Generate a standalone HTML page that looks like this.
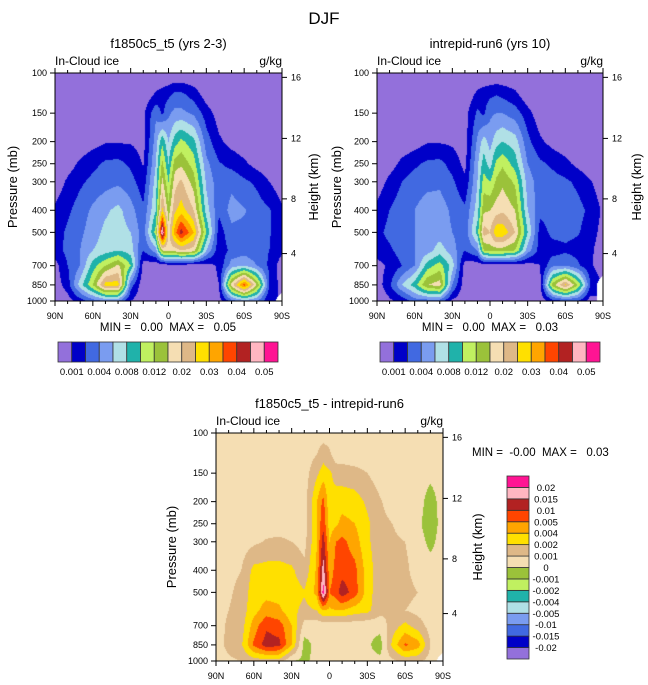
<!DOCTYPE html>
<html><head><meta charset="utf-8">
<style>
html,body{margin:0;padding:0;background:#fff;}
#wrap{position:relative;width:648px;height:685px;overflow:hidden;font-family:"Liberation Sans",sans-serif;}
canvas{position:absolute;}
svg{position:absolute;left:0;top:0;}
text{font-family:"Liberation Sans",sans-serif;fill:#000;}
.pre{white-space:pre;}
</style></head>
<body>
<div id="wrap">
<canvas id="c1"></canvas>
<canvas id="c2"></canvas>
<canvas id="c3"></canvas>
<svg id="svg" width="648" height="685">
<text x="324" y="24" text-anchor="middle" font-size="17">DJF</text>
</svg>
</div>
<script>
// ---- data (values in units of 1e-3 g/kg) ----
const SCALE = 1e-3;
const LATS = [90,80,70,60,50,40,30,20,10,5,0,-5,-10,-20,-30,-40,-50,-60,-70,-80,-90];
const PRES = [100,125,150,200,250,300,400,500,600,700,850,1000];
const LEVELS_ABS = [0.001,0.002,0.004,0.006,0.008,0.01,0.012,0.015,0.02,0.025,0.03,0.035,0.04,0.045,0.05];
const LEVELS_DIFF = [-0.02,-0.015,-0.01,-0.005,-0.004,-0.002,-0.001,0,0.001,0.002,0.004,0.005,0.01,0.015,0.02];
const LABELS_ABS = ["0.001","0.004","0.008","0.012","0.02","0.03","0.04","0.05"];
const LABELS_DIFF = ["0.02","0.015","0.01","0.005","0.004","0.002","0.001","0","-0.001","-0.002","-0.004","-0.005","-0.01","-0.015","-0.02"];
const PRES_TICKS = [100,150,200,250,300,400,500,700,850,1000];
const HEIGHT_KM = [16,12,8,4];
const HEIGHT_P = [104.5,193.6,356.5,619.4];
const LAT_TICKS = [90,60,30,0,-30,-60,-90];
const LAT_TICK_LABELS = ["90N","60N","30N","0","30S","60S","90S"];
const COLORS = ["#9370DB","#0000C8","#4169E1","#7A9CF0","#B0E0E6","#20B2AA","#C0F060","#9BC23A","#F5DEB3","#DEB887","#FFE000","#FFA500","#FF4500","#B22222","#FFB6C1","#FF1493"];

const ICE_CTRL = [
[0,0,0,0,0,0,0,0,0,0,0,0,0,0,0,0,0,0,0,0,0],
[0,0,0,0,0,0,0,0.2,1.2,1.5,1.8,2.6,2.6,1.6,0.5,0,0,0,0,0,0],
[0,0,0,0,0,0,0.2,0.8,3.6,1.8,3.6,4.6,4.6,3.6,1.5,0.5,0,0,0,0,0],
[0,0,0.3,0.6,0.9,0.9,0.9,0.6,5.0,9.6,6.0,9.0,10.6,8.6,3.0,1.2,0.6,0.3,0.1,0,0],
[0,0.5,1.2,1.7,2.4,2.6,1.8,0.9,6.0,12.9,8.0,13.5,14.4,11.0,4.6,2.2,1.7,1.2,0.6,0.2,0],
[0.3,1.2,1.8,2.6,3.2,3.6,2.8,1.4,7.0,16.5,10.0,18.0,21.0,13.5,5.6,2.8,3.4,2.4,1.8,1.0,0.3],
[1.2,1.8,3.0,4.4,5.6,6.6,4.8,2.4,8.0,26.5,13.5,24.0,27.5,20.0,7.0,2.4,4.8,4.2,3.0,2.2,1.2],
[1.5,2.4,3.6,5.0,6.6,7.0,6.0,3.0,11.0,52.5,17.5,32.5,42.5,30.0,10.0,1.5,3.4,3.4,3.0,2.2,1.2],
[1.5,2.6,4.0,6.0,7.0,8.0,7.0,2.0,5.0,15.0,17.5,17.5,20.0,17.5,6.0,1.3,2.6,3.0,2.6,2.0,1.2],
[0.6,2.0,4.0,9.0,12.0,16.0,10.0,0.5,0.2,0.3,0.4,0.4,0.4,0.3,0.5,1.2,5.0,6.0,4.0,1.8,0.4],
[0.4,1.5,7.0,12.0,27.5,27.5,3.0,0.3,0.2,0.2,0.2,0.2,0.2,0.2,0.2,1.0,17.5,37.5,15.0,2.0,0.5],
[0,0.5,1.5,3.0,4.0,4.0,1.0,0.2,0.2,0.2,0.2,0.2,0.2,0.2,0.2,0.5,3.0,5.0,4.0,1.0,null]
];
const ICE_EXP = [
[0,0,0,0,0,0,0,0,0,0,0,0,0,0,0,0,0,0,0,0,0],
[0,0,0,0,0,0,0,0.2,1.3,1.6,1.8,2.0,1.8,1.3,0.3,0,0,0,0,0,0],
[0,0,0,0,0,0,0,0.6,2.4,1.8,3.6,4.0,4.0,3.0,1.4,0.3,0,0,0,0,0],
[0,0,0.2,0.5,0.9,0.9,0.8,0.5,4.4,7.0,5.2,7.2,8.0,7.0,2.6,1.2,0.6,0.3,0,0,0],
[0,0.5,1.3,1.8,2.4,2.6,1.6,0.7,5.6,9.0,7.0,10.6,11.6,9.0,4.0,2.4,1.8,1.3,0.7,0.2,0],
[0.4,1.3,2.0,3.0,3.4,3.6,2.4,1.2,6.0,11.0,10.0,12.6,14.4,11.6,5.0,3.0,2.8,2.4,1.8,1.1,0.3],
[1.3,2.0,3.2,4.0,5.0,5.0,3.6,2.4,7.0,14.4,15.0,17.5,19.0,15.0,6.0,2.6,3.0,3.0,2.6,1.8,0.8],
[1.7,2.6,3.4,4.0,5.0,5.0,4.0,2.6,9.0,22.5,20.0,29.0,29.0,20.0,8.0,1.5,2.6,2.6,2.2,1.5,0.6],
[1.5,1.8,3.0,4.0,5.0,7.0,5.0,2.0,4.0,12.0,13.5,13.5,13.5,12.0,5.0,1.5,1.5,1.8,1.6,1.2,0.4],
[0.6,1.2,2.0,4.0,9.0,11.0,7.0,0.5,0.3,0.3,0.3,0.3,0.3,0.3,0.5,1.0,3.6,4.0,2.4,1.2,0.3],
[0.4,1.8,6.0,9.0,15.0,17.5,4.0,0.3,0.2,0.2,0.2,0.2,0.2,0.2,0.2,0.8,13.5,26.5,12.0,2.0,null],
[0,0.8,1.3,3.0,3.0,3.0,0.8,0.2,0.2,0.2,0.2,0.2,0.2,0.2,0.2,0.3,1.5,2.0,2.0,0.5,null]
];
const ICE_DIFF = [
[0.5,0.5,0.5,0.5,0.5,0.5,0.5,0.5,0.5,0.5,0.5,0.5,0.5,0.5,0.5,0.5,0.5,0.5,0.5,0.5,0.5],
[0.5,0.5,0.5,0.5,0.5,0.5,0.5,0.5,1.0,1.6,1.2,0.5,0.5,0.5,0.5,0.5,0.5,0.5,0.5,0.5,0.5],
[0.5,0.5,0.5,0.5,0.5,0.5,0.5,0.5,1.8,3.0,2.4,1.6,1.5,1.3,1.0,0.5,0.5,0.5,0.5,0.3,0.5],
[0.5,0.5,0.5,0.5,0.5,0.5,0.5,0.5,4.0,6.5,2.6,3.0,3.2,3.0,1.8,1.1,0.5,0.5,0.5,-0.5,0.5],
[0.5,0.5,0.5,0.5,0.5,0.5,0.5,0.5,4.0,9.0,3.0,3.6,4.3,4.0,2.4,1.3,1.0,0.5,0.3,-0.7,0.5],
[0.5,0.5,0.5,0.8,1.1,1.2,1.0,0.6,4.0,12.5,4.0,5.0,6.5,4.5,2.4,1.4,1.2,1.0,0.5,-0.3,0.5],
[0.5,0.6,1.0,2.6,2.8,2.8,2.4,1.3,4.2,17.5,4.5,6.5,8.0,6.5,3.0,1.4,1.3,1.2,0.6,0.5,0.5],
[0.5,0.8,1.4,3.0,3.2,3.2,3.0,2.2,4.3,22.5,5.0,7.5,13.0,7.5,3.0,1.3,1.4,1.3,1.0,0.5,0.5],
[0.5,1.0,1.5,3.2,4.5,4.2,2.6,1.7,2.0,4.0,3.6,4.0,4.0,3.0,2.6,1.3,1.0,1.0,0.7,0.5,0.5],
[0.5,1.2,1.5,4.5,9.0,7.5,4.0,0.6,0.4,0.4,0.4,0.4,0.4,0.4,0.3,0.4,1.5,2.6,1.5,0.6,0.5],
[0.5,1.3,1.8,6.0,12.5,11.5,4.0,-0.4,0.3,0.3,0.2,0.3,0.3,0.3,0.2,-0.5,2.6,6.0,4.5,1.0,0.5],
[0.5,0.8,1.0,1.5,1.5,1.5,0,-0.2,0.3,0.3,0.3,0.3,0.3,0.3,0.3,0.3,0.8,1.3,1.2,0.6,null]
];

// ---- helpers ----
function valToIdx(v, lv){
  if(v===null) return null;
  if(v<lv[0]) return Math.max(0, 1-(lv[0]-v)/(lv[1]-lv[0]));
  for(let k=1;k<lv.length;k++){ if(v<lv[k]) return k+(v-lv[k-1])/(lv[k]-lv[k-1]); }
  const n=lv.length; return n+(v-lv[n-1])/(lv[n-1]-lv[n-2]);
}
function seg(arr, x, desc){
  for(let i=0;i<arr.length-1;i++){
    const a=arr[i], b=arr[i+1];
    if(desc ? (x<=a && x>=b) : (x>=a && x<=b)) return [i,(x-a)/(b-a)];
  }
  return [arr.length-2,1];
}
const svg=document.getElementById('svg');
const NS='http://www.w3.org/2000/svg';
function mk(tag, attrs, parent){ const e=document.createElementNS(NS,tag); for(const k in attrs) e.setAttribute(k,attrs[k]); (parent||svg).appendChild(e); return e; }
function txt(s, attrs, parent){ const e=mk('text',attrs,parent); e.textContent=s; return e; }

function drawPanel(cfg){
  const {x0,x1,y0,y1,grid,levels,canvasId,name}=cfg;
  const W=x1-x0, H=y1-y0;
  const xOf=lat=>x0+(90-lat)/180*W;
  const yOf=p=>y0+Math.log10(p/100)*H;
  const cv=document.getElementById(canvasId);
  cv.width=W; cv.height=H; cv.style.left=x0+'px'; cv.style.top=y0+'px';
  const ctx=cv.getContext('2d');
  const logP=PRES.map(p=>Math.log10(p));
  const idxGrid=grid.map(r=>r.map(v=>v===null?null:valToIdx(v*SCALE,levels)));
  for(let j=0;j<H;j++){
    const lp=2+(j+0.5)/H;
    const [pi,pt]=seg(logP,lp,false);
    for(let i=0;i<W;i++){
      const lat=90-(i+0.5)/W*180;
      const [li,lt]=seg(LATS,lat,true);
      const c=[idxGrid[pi][li],idxGrid[pi][li+1],idxGrid[pi+1][li],idxGrid[pi+1][li+1]];
      const w=[(1-pt)*(1-lt),(1-pt)*lt,pt*(1-lt),pt*lt];
      let s=0,ws=0,nw=0;
      for(let k=0;k<4;k++){ if(c[k]===null) nw+=w[k]; else {s+=c[k]*w[k]; ws+=w[k];} }
      if(nw>0.5){ ctx.fillStyle='#fff'; }
      else { const v=s/ws; ctx.fillStyle=COLORS[Math.max(0,Math.min(15,Math.floor(v)))]; }
      ctx.fillRect(i,j,1,1);
    }
  }
  const g=mk('g',{});
  
  
  mk('rect',{x:x0,y:y0,width:W,height:H,fill:'none',stroke:'#000','stroke-width':1}, g);
  PRES_TICKS.forEach(p=>{
    const y=yOf(p);
    mk('line',{x1:x0-5,x2:x0,y1:y,y2:y,stroke:'#000'},g);
    const t=txt(String(p),{x:x0-8,y:y+3,'text-anchor':'end','font-size':9},g);
    
    
  });
  HEIGHT_KM.forEach((h,k)=>{
    const y=yOf(HEIGHT_P[k]);
    mk('line',{x1:x1,x2:x1+5,y1:y,y2:y,stroke:'#000'},g);
    const t=txt(String(h),{x:x1+9,y:y+3,'font-size':9},g);
    
    
  });
  for(let lat=90;lat>=-90;lat-=10){
    const x=xOf(lat), major=(lat%30===0);
    const len=major?5:3;
    mk('line',{x1:x,x2:x,y1:y1,y2:y1+len,stroke:'#000'},g);
    mk('line',{x1:x,x2:x,y1:y0,y2:y0-len,stroke:'#000'},g);
  }
  LAT_TICKS.forEach((lat,k)=>{
    const t=txt(LAT_TICK_LABELS[k],{x:xOf(lat),y:y1+18,'text-anchor':'middle','font-size':9},g);
    
    
  });
  const pt=txt('Pressure (mb)',{x:cfg.ptX,y:(y0+y1)/2,'text-anchor':'middle','font-size':13,transform:`rotate(-90 ${cfg.ptX} ${(y0+y1)/2})`},g);
   
  const ht=txt('Height (km)',{x:cfg.htX,y:(y0+y1)/2,'text-anchor':'middle','font-size':13,transform:`rotate(-90 ${cfg.htX} ${(y0+y1)/2})`},g);
   
  const vn=txt('In-Cloud ice',{x:x0,y:y0-8,'font-size':12},g);
   
  const un=txt('g/kg',{x:x1,y:y0-8,'text-anchor':'end','font-size':12},g);
   
  const ti=txt(cfg.title,{x:(x0+x1)/2,y:cfg.titleY,'text-anchor':'middle','font-size':13},g);
   
  const mm=txt(cfg.minmax,{x:cfg.mmX,y:cfg.mmY,'text-anchor':cfg.mmAnchor,'font-size':11.5,'class':'pre'},g);
   
}

function hColorbar(x0,x1,y0,y1,name){
  const g=mk('g',{});
  
  
  const n=COLORS.length, w=(x1-x0)/n;
  COLORS.forEach((c,k)=>{
    const r=mk('rect',{x:x0+k*w,y:y0,width:w,height:y1-y0,fill:c,stroke:'#333','stroke-width':0.8},g);
    
    
  });
  LABELS_ABS.forEach((s,k)=>{
    const t=txt(s,{x:x0+(2*k+1)*w,y:y1+13,'text-anchor':'middle','font-size':9.5},g);
    
    
  });
}
function vColorbar(x0,x1,y0,y1,name){
  const g=mk('g',{});
  
  
  const n=COLORS.length, h=(y1-y0)/n;
  COLORS.forEach((c,k)=>{
    const r=mk('rect',{x:x0,y:y1-(k+1)*h,width:x1-x0,height:h,fill:c,stroke:'#333','stroke-width':0.8},g);
    
    
  });
  LABELS_DIFF.forEach((s,k)=>{
    const t=txt(s,{x:x1+17,y:y0+(k+1)*h+3.5,'text-anchor':'middle','font-size':9.5},g);
    
    
  });
}

drawPanel({x0:55,x1:282,y0:73,y1:301,grid:ICE_CTRL,levels:LEVELS_ABS,canvasId:'c1',name:'panel-f1850c5',
  ptX:17,htX:318,title:'f1850c5_t5 (yrs 2-3)',titleY:48,minmax:'MIN =   0.00  MAX =   0.05',mmX:168,mmY:331,mmAnchor:'middle'});
drawPanel({x0:377,x1:603,y0:73,y1:301,grid:ICE_EXP,levels:LEVELS_ABS,canvasId:'c2',name:'panel-intrepid',
  ptX:341,htX:641,title:'intrepid-run6 (yrs 10)',titleY:48,minmax:'MIN =   0.00  MAX =   0.03',mmX:490,mmY:331,mmAnchor:'middle'});
drawPanel({x0:216,x1:443,y0:433,y1:661,grid:ICE_DIFF,levels:LEVELS_DIFF,canvasId:'c3',name:'panel-difference',
  ptX:176,htX:482,title:'f1850c5_t5 - intrepid-run6',titleY:408,minmax:'MIN =  -0.00  MAX =   0.03',mmX:472,mmY:456,mmAnchor:'start'});
hColorbar(58,278,342,362,'colorbar-f1850c5');
hColorbar(380,600,342,362,'colorbar-intrepid');
vColorbar(507,529,476,659,'colorbar-difference');
</script>
</body></html>
